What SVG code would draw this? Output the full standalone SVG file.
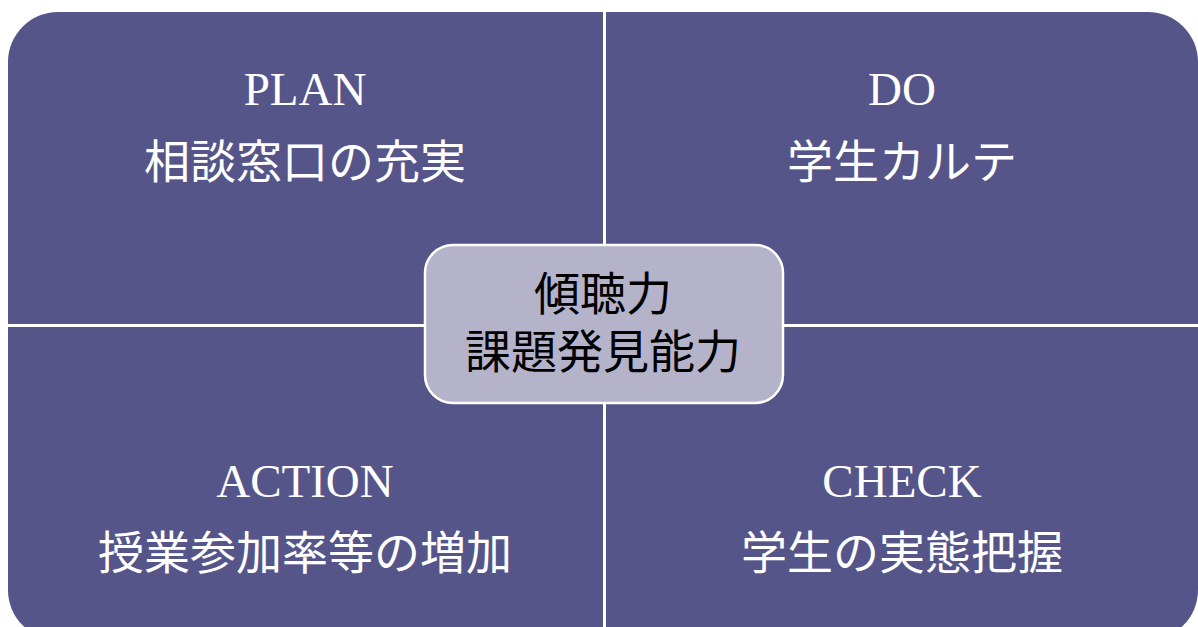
<svg xmlns="http://www.w3.org/2000/svg" width="1198" height="627" viewBox="0 0 1198 627">
<style>
.q{fill:#55558A;}
.lbl{font-family:"Liberation Serif","Noto Sans CJK JP",serif;font-size:47px;fill:#FFFFFF;text-anchor:middle;}
.jp{font-family:"Noto Sans CJK JP","Liberation Serif",sans-serif;font-size:46px;fill:#FFFFFF;text-anchor:middle;}
.cjp{font-family:"Noto Sans CJK JP","Liberation Serif",sans-serif;font-size:46px;fill:#000000;text-anchor:middle;}
</style>
<rect width="1198" height="627" fill="#FFFFFF"/>
<g id="plan">
<path class="q" d="M8,324 V62 A50,50 0 0 1 58,12 H603 V324 Z"/>
<text class="lbl" x="305" y="105">PLAN</text>
<text class="jp" x="305" y="178">相談窓口の充実</text>
</g>
<g id="do">
<path class="q" d="M606,12 H1148 A50,50 0 0 1 1198,62 V324 H606 Z"/>
<text class="lbl" x="902" y="105">DO</text>
<text class="jp" x="902" y="178">学生カルテ</text>
</g>
<g id="action">
<path class="q" d="M8,327 H603 V640 H58 A50,50 0 0 1 8,590 Z"/>
<text class="lbl" x="305" y="497">ACTION</text>
<text class="jp" x="305" y="569">授業参加率等の増加</text>
</g>
<g id="check">
<path class="q" d="M606,327 H1198 V590 A50,50 0 0 1 1148,640 H606 Z"/>
<text class="lbl" x="902" y="497">CHECK</text>
<text class="jp" x="902" y="569">学生の実態把握</text>
</g>
<g id="center">
<rect x="425" y="245" width="358" height="158" rx="28" ry="28" fill="#B4B3C9" stroke="#FFFFFF" stroke-width="2.5"/>
<text class="cjp" x="603" y="310">傾聴力</text>
<text class="cjp" x="603" y="368">課題発見能力</text>
</g>
<g id="connectors"></g>
</svg>
